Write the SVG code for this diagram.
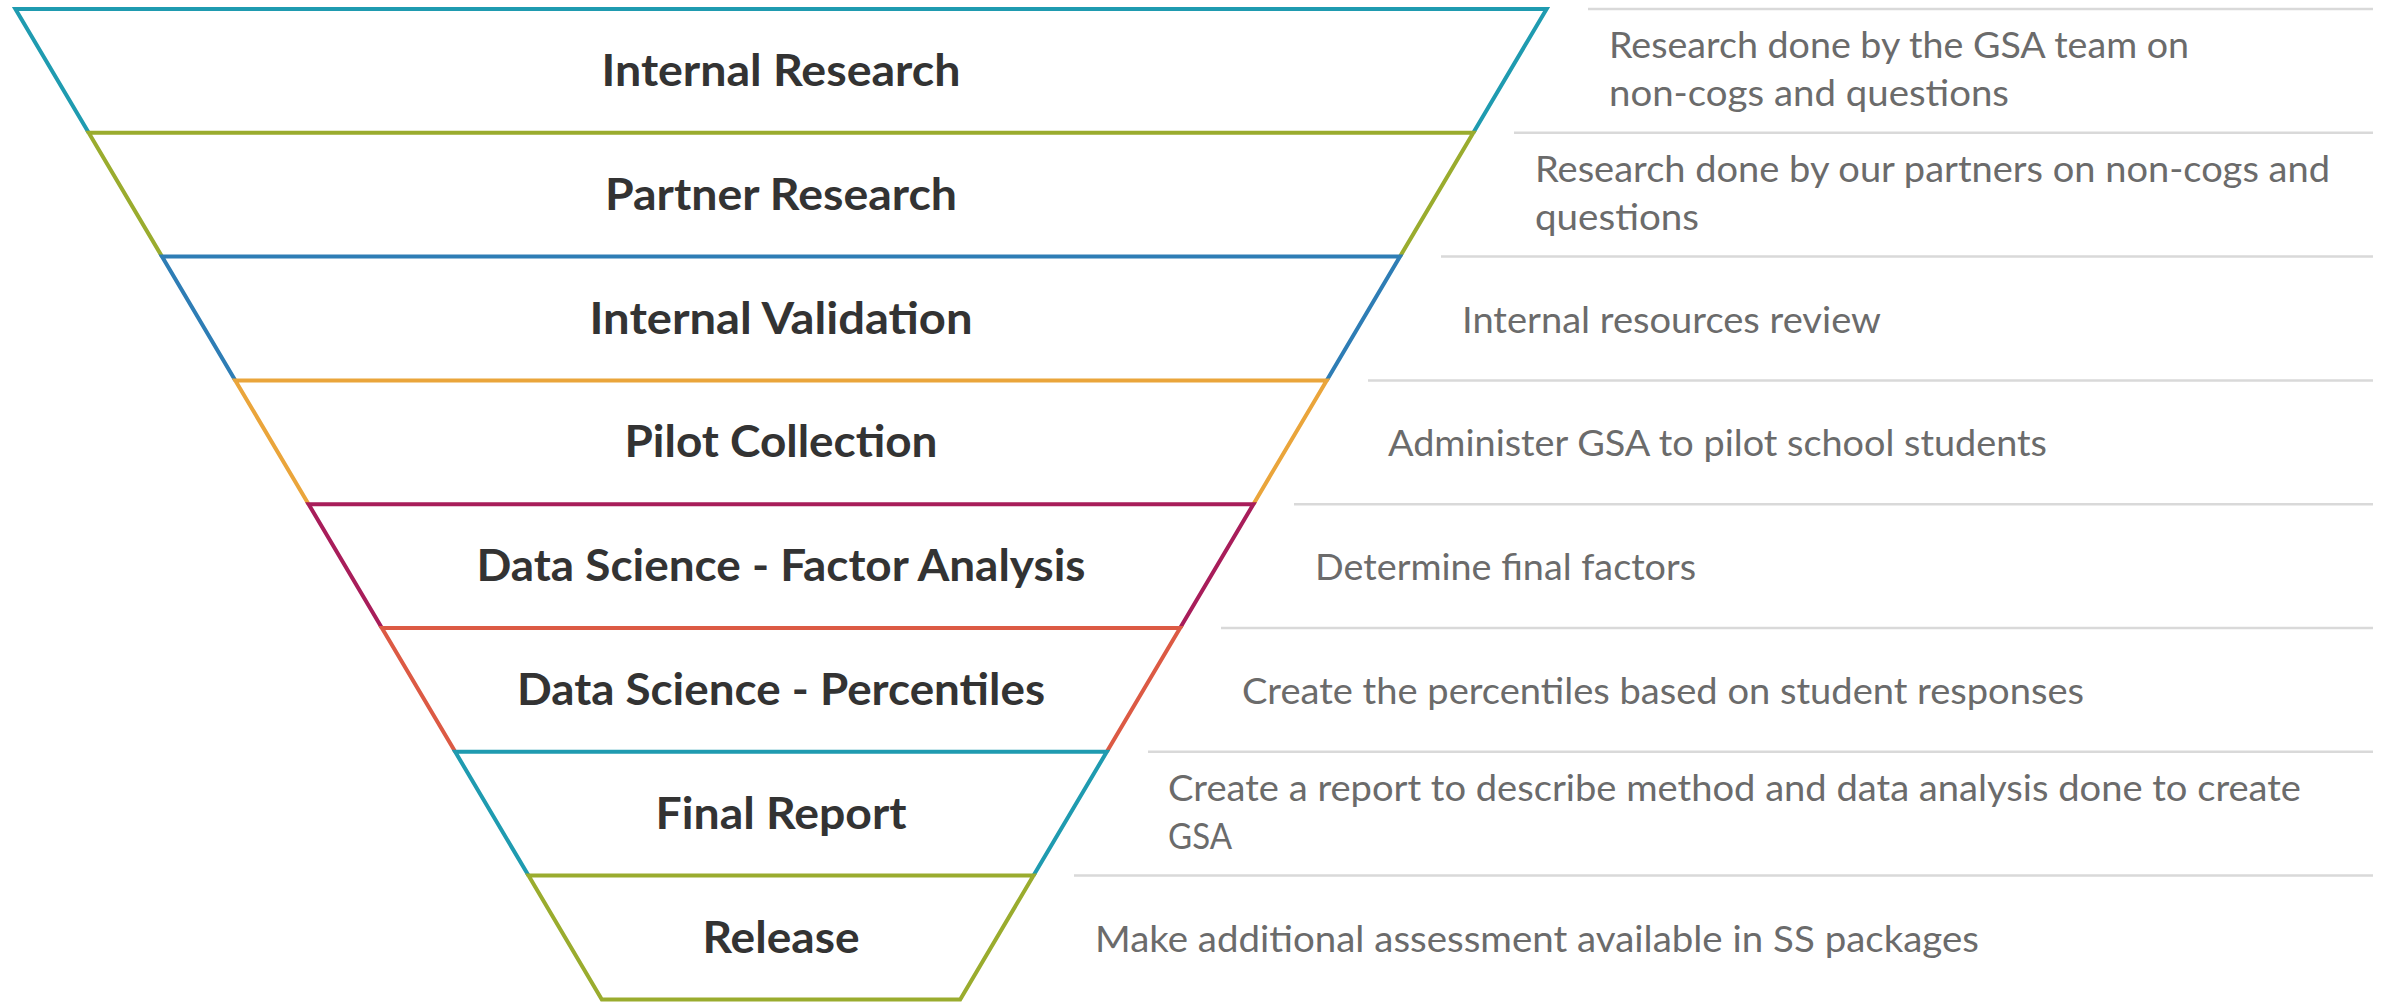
<svg xmlns="http://www.w3.org/2000/svg" width="2382" height="1003" viewBox="0 0 2382 1003">
<style>
.bg{fill:#ffffff}
.tier{fill:none;stroke-width:4;stroke-linejoin:miter}
.c1{stroke:#1f9bb0}.c2{stroke:#9aac2e}.c3{stroke:#2e7db5}.c4{stroke:#eaa53b}
.c5{stroke:#a81d5a}.c6{stroke:#dc5a44}
.title{font-family:Lato,"Liberation Sans",sans-serif;font-weight:700;font-size:43px;fill:#333333;text-anchor:middle}
.desc{font-family:Lato,"Liberation Sans",sans-serif;font-weight:400;font-size:37px;fill:#6b6b6b}
.sep{stroke:#d9d9d9;stroke-width:2.5}
</style>
<rect class="bg" x="0" y="0" width="2382" height="1003"/>
<g id="connectors"></g>
<g id="internal-research">
<path class="tier c1" d="M88.7 132.8 L15.4 9 L1546.6 9 L1473.3 132.8"/>
<text class="title" x="781" y="86" textLength="359" lengthAdjust="spacingAndGlyphs">Internal Research</text>
<line class="sep" x1="1588" y1="9" x2="2373" y2="9"/>
<text class="desc" x="1609" y="58" textLength="580" lengthAdjust="spacingAndGlyphs">Research done by the GSA team on</text>
<text class="desc" x="1609" y="106" textLength="400" lengthAdjust="spacingAndGlyphs">non-cogs and questions</text>
</g>
<g id="partner-research">
<path class="tier c2" d="M162 256.6 L88.7 132.8 L1473.3 132.8 L1400 256.6"/>
<text class="title" x="781" y="209.7" textLength="352" lengthAdjust="spacingAndGlyphs">Partner Research</text>
<line class="sep" x1="1514" y1="132.8" x2="2373" y2="132.8"/>
<text class="desc" x="1535" y="181.7" textLength="795" lengthAdjust="spacingAndGlyphs">Research done by our partners on non-cogs and</text>
<text class="desc" x="1535" y="229.7" textLength="164" lengthAdjust="spacingAndGlyphs">questions</text>
</g>
<g id="internal-validation">
<path class="tier c3" d="M235.3 380.4 L162 256.6 L1400 256.6 L1326.7 380.4"/>
<text class="title" x="781" y="333.5" textLength="383" lengthAdjust="spacingAndGlyphs">Internal Validation</text>
<line class="sep" x1="1441" y1="256.6" x2="2373" y2="256.6"/>
<text class="desc" x="1462" y="332.5" textLength="419" lengthAdjust="spacingAndGlyphs">Internal resources review</text>
</g>
<g id="pilot-collection">
<path class="tier c4" d="M308.6 504.2 L235.3 380.4 L1326.7 380.4 L1253.4 504.2"/>
<text class="title" x="781" y="457.3" textLength="313" lengthAdjust="spacingAndGlyphs">Pilot Collection</text>
<line class="sep" x1="1368" y1="380.4" x2="2373" y2="380.4"/>
<text class="desc" x="1388" y="456.3" textLength="659" lengthAdjust="spacingAndGlyphs">Administer GSA to pilot school students</text>
</g>
<g id="factor-analysis">
<path class="tier c5" d="M381.9 628 L308.6 504.2 L1253.4 504.2 L1180.1 628"/>
<text class="title" x="781" y="581.1" textLength="609" lengthAdjust="spacingAndGlyphs">Data Science - Factor Analysis</text>
<line class="sep" x1="1294" y1="504.2" x2="2373" y2="504.2"/>
<text class="desc" x="1315" y="580.1" textLength="381" lengthAdjust="spacingAndGlyphs">Determine final factors</text>
</g>
<g id="percentiles">
<path class="tier c6" d="M455.2 751.8 L381.9 628 L1180.1 628 L1106.8 751.8"/>
<text class="title" x="781" y="704.9" textLength="528" lengthAdjust="spacingAndGlyphs">Data Science - Percentiles</text>
<line class="sep" x1="1221" y1="628" x2="2373" y2="628"/>
<text class="desc" x="1242" y="703.9" textLength="842" lengthAdjust="spacingAndGlyphs">Create the percentiles based on student responses</text>
</g>
<g id="final-report">
<path class="tier c1" d="M528.5 875.6 L455.2 751.8 L1106.8 751.8 L1033.5 875.6"/>
<text class="title" x="781" y="828.7" textLength="251" lengthAdjust="spacingAndGlyphs">Final Report</text>
<line class="sep" x1="1148" y1="751.8" x2="2373" y2="751.8"/>
<text class="desc" x="1168" y="800.7" textLength="1133" lengthAdjust="spacingAndGlyphs">Create a report to describe method and data analysis done to create</text>
<text class="desc" x="1168" y="848.7" textLength="64" lengthAdjust="spacingAndGlyphs">GSA</text>
</g>
<g id="release">
<path class="tier c2" d="M601.8 999.4 L528.5 875.6 L1033.5 875.6 L960.2 999.4 Z"/>
<text class="title" x="781" y="952.5" textLength="157" lengthAdjust="spacingAndGlyphs">Release</text>
<line class="sep" x1="1074" y1="875.6" x2="2373" y2="875.6"/>
<text class="desc" x="1095" y="951.5" textLength="884" lengthAdjust="spacingAndGlyphs">Make additional assessment available in SS packages</text>
</g>
</svg>
